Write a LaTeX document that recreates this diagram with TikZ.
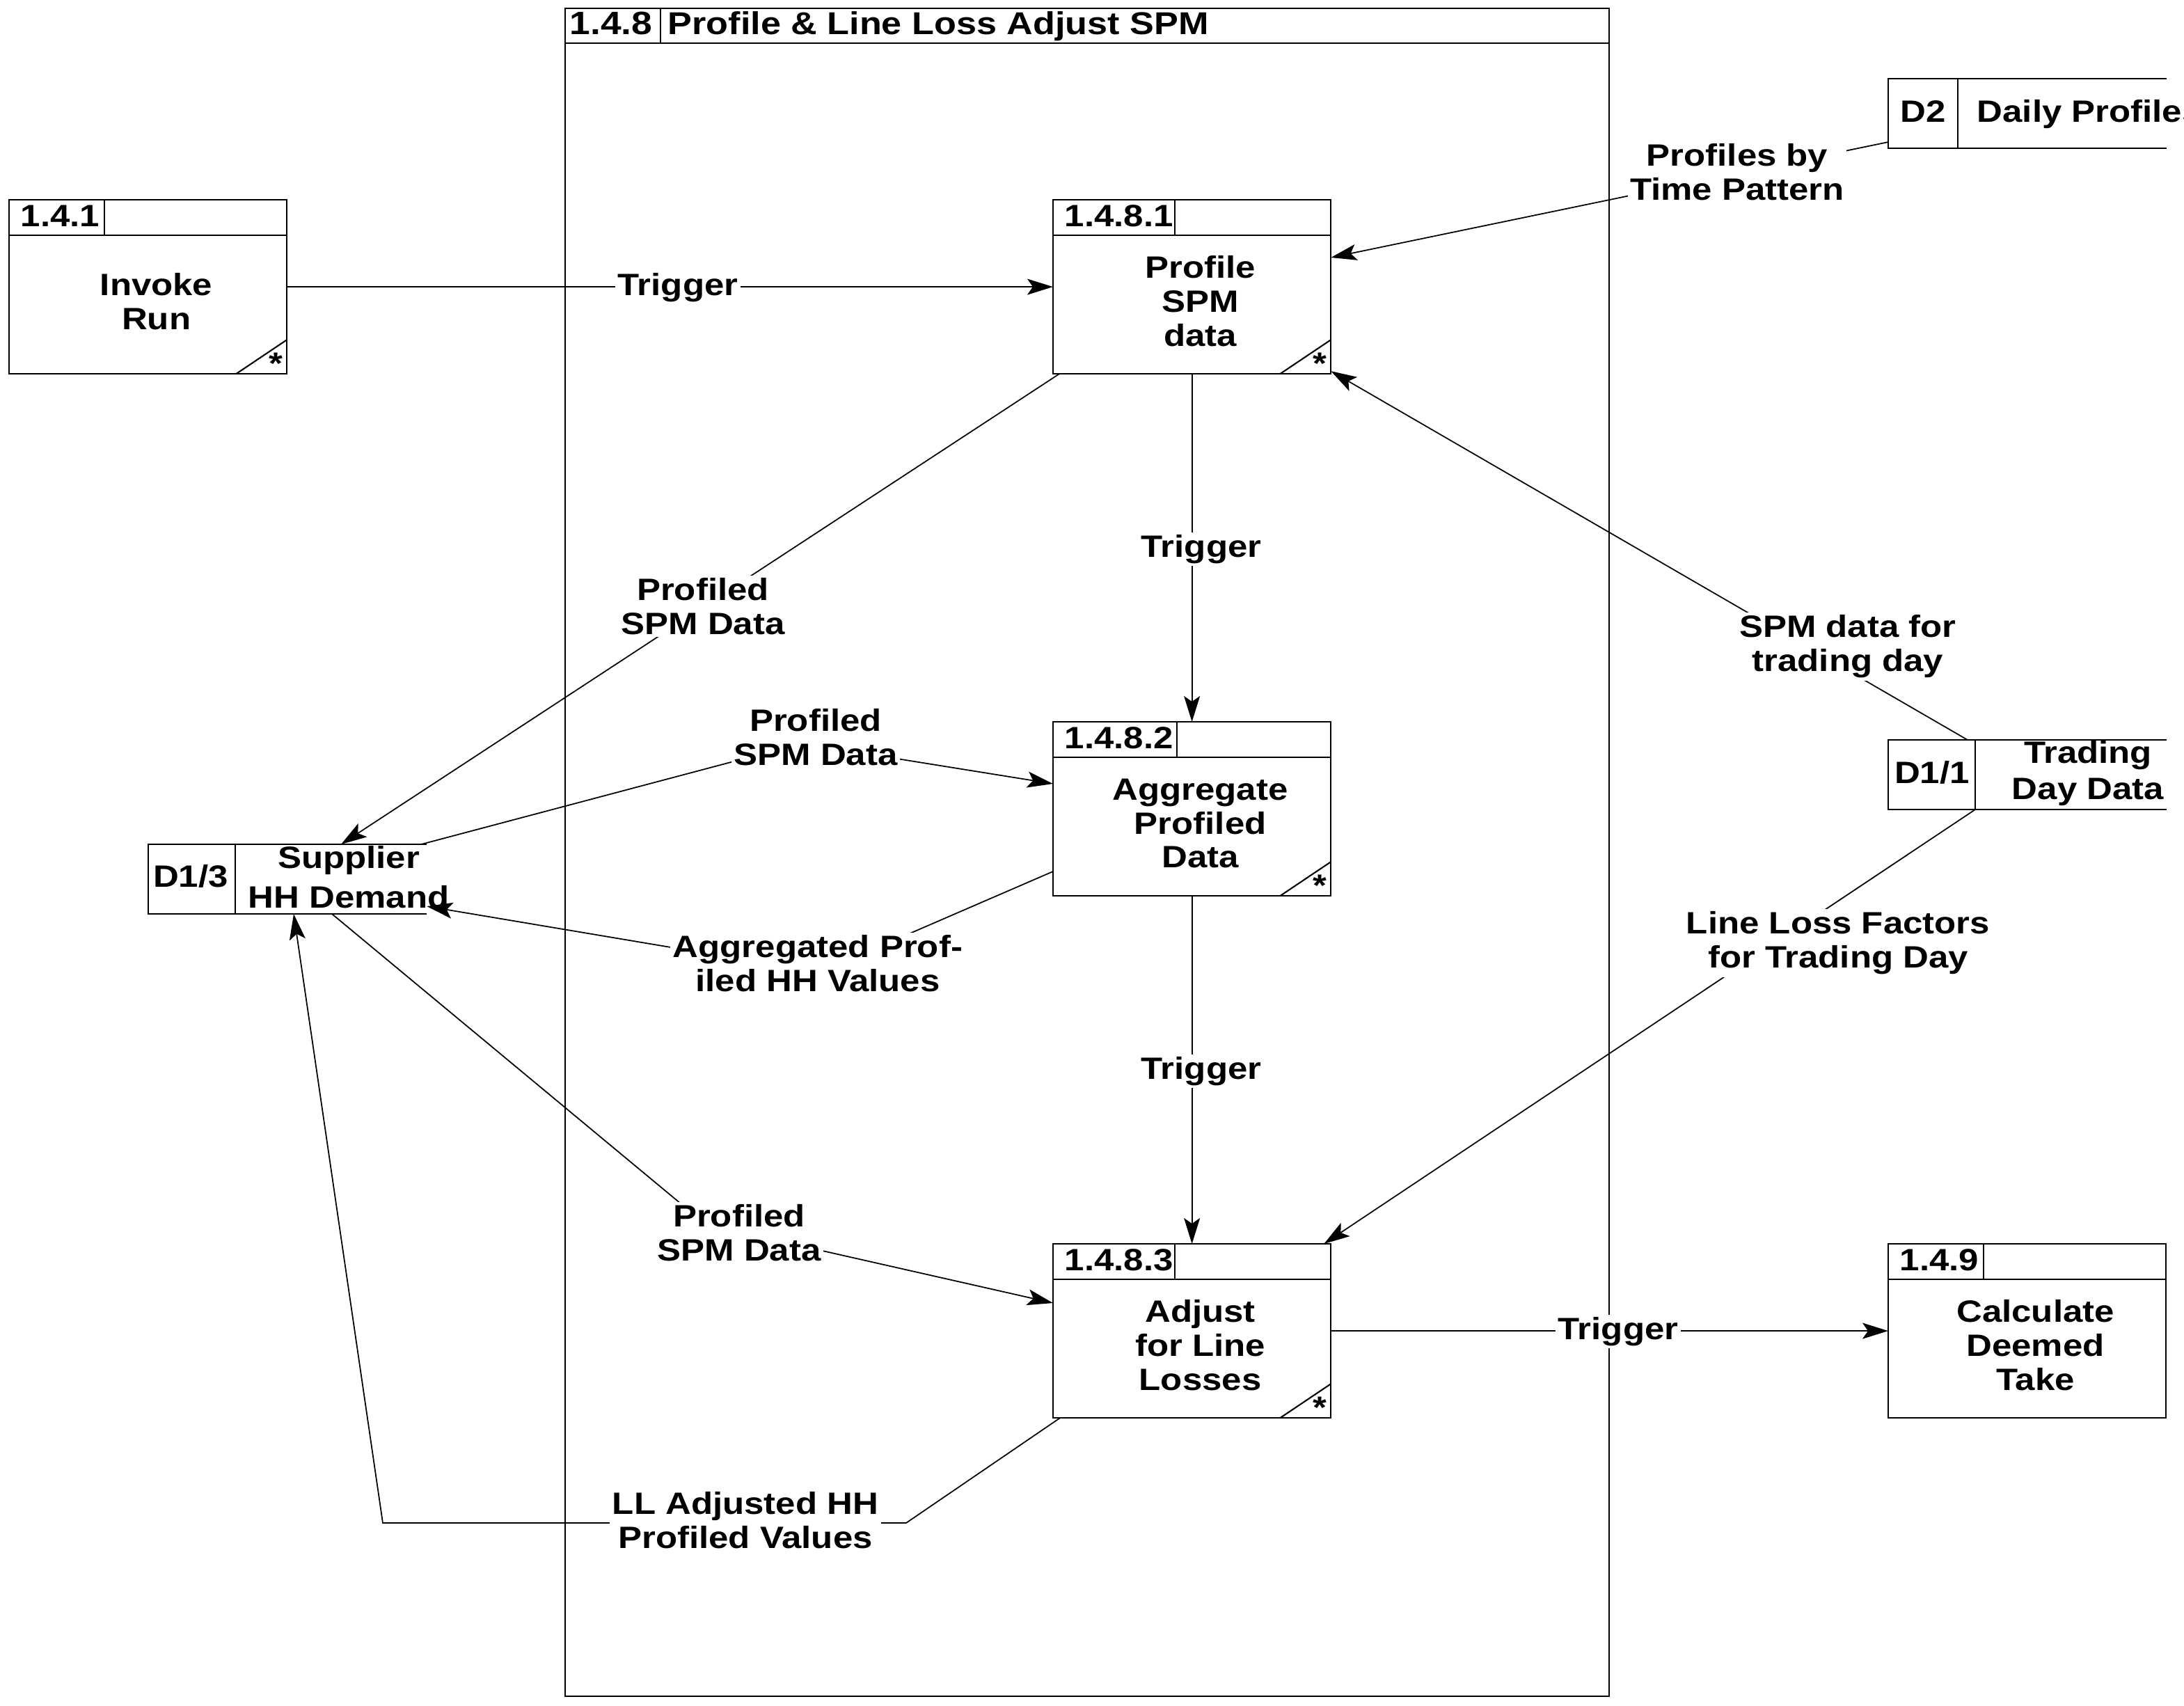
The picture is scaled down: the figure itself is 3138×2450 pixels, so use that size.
\documentclass[tikz,border=0pt]{standalone}
\usepackage{fontspec}
\setmainfont{Liberation Sans}[FakeStretch=1.15]
\usetikzlibrary{arrows.meta,calc}
\begin{document}
\begin{tikzpicture}[x=0.01cm,y=-0.01cm,
  every node/.style={font=\fontsize{12.6}{13.9}\selectfont\bfseries},
  boxline/.style={line width=0.6pt},
  flowline/.style={line width=0.5pt},
  flowarrow/.style={line width=0.5pt,-{Stealth[length=0.37cm,width=0.23cm,inset=0.08cm]}},
  procbody/.style={draw,line width=0.6pt,minimum width=3.99cm,minimum height=2.5cm,inner sep=0pt,outer sep=0pt},
  storebody/.style={inner sep=0pt,outer sep=0pt},
  idtext/.style={anchor=base west,inner sep=0pt},
  bodytext/.style={align=center,inner sep=0pt},
  lbl/.style={fill=white,inner sep=1pt,align=center}]
\useasboundingbox (0,0) rectangle (3138,2450);

\newcommand\procbox[5]{%
  \node[procbody,anchor=north west] (#1) at (#2) {};
  \draw[boxline] ($(#1.north west)+(0,51)$) -- ($(#1.north east)+(0,51)$);
  \draw[boxline] ($(#1.north west)+(#3,0)$) -- ($(#1.north west)+(#3,51)$);
  \node[idtext] (#1-id) at ($(#1.north west)+(16,38)$) {#4};
  \node[bodytext] (#1-txt) at ($(#1.north)+(12,146)$) {#5};
}
\newcommand\starcorner[1]{%
  \draw[boxline] ($(#1.south east)+(-73,0)$) -- ($(#1.south east)+(0,-49)$);
  \node[anchor=base east,inner sep=0pt] (#1-star) at ($(#1.south east)+(-5,0)$) {*};
}

% main frame
\node[draw,boxline,minimum width=14.99cm,minimum height=24.24cm,inner sep=0pt,outer sep=0pt,anchor=north west] (frame) at (812,12) {};
\draw[boxline] ($(frame.north west)+(0,50)$) -- ($(frame.north east)+(0,50)$);
\draw[boxline] ($(frame.north west)+(137,0)$) -- ($(frame.north west)+(137,50)$);
\node[idtext,font=\fontsize{13.2}{14.5}\selectfont\bfseries] (frame-id) at ($(frame.north west)+(6,37)$) {1.4.8};
\node[idtext,font=\fontsize{12.9}{14.2}\selectfont\bfseries] (frame-title) at ($(frame.north west)+(147,37)$) {Profile \& Line Loss Adjust SPM};

% processes
\procbox{p141}{13,287}{137}{1.4.1}{Invoke\\Run}
\starcorner{p141}
\procbox{p1481}{1513,287}{175}{1.4.8.1}{Profile\\SPM\\data}
\starcorner{p1481}
\procbox{p1482}{1513,1037}{178}{1.4.8.2}{Aggregate\\Profiled\\Data}
\starcorner{p1482}
\procbox{p1483}{1513,1787}{175}{1.4.8.3}{Adjust\\for Line\\Losses}
\starcorner{p1483}
\procbox{p149}{2713,1787}{137}{1.4.9}{Calculate\\Deemed\\Take}

% data stores
\node[storebody,minimum width=4cm,minimum height=1cm,anchor=north west] (d2) at (2713,113) {};
\draw[boxline] (d2.north east) -- (d2.north west) -- (d2.south west) -- (d2.south east);
\draw[boxline] ($(d2.north west)+(100,0)$) -- ($(d2.south west)+(100,0)$);
\node[anchor=base,inner sep=0pt] (d2-id) at ($(d2.north west)+(50,62)$) {D2};
\node[anchor=base west,inner sep=0pt] (d2-txt) at ($(d2.north west)+(127,62)$) {Daily Profiles};

\node[storebody,minimum width=4cm,minimum height=1cm,anchor=north west] (d13) at (213,1213) {};
\draw[boxline] (d13.north east) -- (d13.north west) -- (d13.south west) -- (d13.south east);
\draw[boxline] ($(d13.north west)+(125,0)$) -- ($(d13.south west)+(125,0)$);
\node[anchor=base,inner sep=0pt] (d13-id) at ($(d13.north west)+(61,61)$) {D1/3};
\node[bodytext] (d13-txt) at (501,1260) {Supplier\\[0.08cm]HH Demand};

\node[storebody,minimum width=4cm,minimum height=1cm,anchor=north west] (d11) at (2713,1063) {};
\draw[boxline] (d11.north east) -- (d11.north west) -- (d11.south west) -- (d11.south east);
\draw[boxline] ($(d11.north west)+(125,0)$) -- ($(d11.south west)+(125,0)$);
\node[anchor=base,inner sep=0pt] (d11-id) at ($(d11.north west)+(63,62)$) {D1/1};
\node[bodytext] (d11-txt) at (3000,1111) {Trading\\[0.03cm]Day Data};

% bend points
\coordinate (b-psd2) at (1152,1068);
\coordinate (b-agg) at (1178,1397);
\coordinate (b-psd3) at (1014,1759);
\coordinate (b-ll1) at (1302,2188);
\coordinate (b-ll2) at (550,2188);

% flows
\draw[flowarrow] (p141.east) -- (p1481.west);
\draw[flowarrow] (p1481.south) -- (p1482.north);
\draw[flowarrow] (p1482.south) -- (p1483.north);
\draw[flowarrow] (p1483.east) -- (p149.west);
\draw[flowarrow] ($(d2.south west)+(0,-9)$) -- ($(p1481.north east)+(0,83)$);
\draw[flowarrow] ($(d11.north west)+(114,0)$) -- ($(p1481.south east)+(0,-4)$);
\draw[flowarrow] ($(d11.south west)+(125,0)$) -- ($(p1483.north east)+(-10,0)$);
\draw[flowarrow] ($(p1481.south west)+(9,0)$) -- ($(d13.north west)+(277,0)$);
\draw[flowarrow] ($(d13.north east)+(-8,0)$) -- (b-psd2) -- ($(p1482.north west)+(0,89)$);
\draw[flowarrow] ($(p1482.north west)+(0,215)$) -- (b-agg) -- ($(d13.south east)+(0,-11)$);
\draw[flowarrow] ($(d13.south west)+(264,0)$) -- (b-psd3) -- ($(p1483.north west)+(0,85)$);
\draw[flowarrow] ($(p1483.south west)+(10,0)$) -- (b-ll1) -- (b-ll2) -- ($(d13.south west)+(209,0)$);

% labels
\node[lbl] (l-trig1) at (974,413) {Trigger};
\node[lbl] (l-trig2) at (1726,789) {Trigger};
\node[lbl] (l-trig3) at (1726,1539) {Trigger};
\node[lbl] (l-trig4) at (2325,1913) {Trigger};
\node[lbl] (l-prof) at (2496,247) {Profiles by\\Time Pattern};
\node[lbl] (l-spmday) at (2655,929) {SPM data for\\trading day};
\node[lbl] (l-llf) at (2641,1355) {Line Loss Factors\\for Trading Day};
\node[lbl] (l-psd1) at (1010,871) {Profiled\\SPM Data};
\node[lbl] (l-psd2) at (1172,1059) {Profiled\\SPM Data};
\node[lbl] (l-agg) at (1175,1384) {Aggregated Prof-\\iled HH Values};
\node[lbl] (l-psd3) at (1062,1771) {Profiled\\SPM Data};
\node[lbl] (l-ll) at (1071,2184) {LL Adjusted HH\\Profiled Values};
\end{tikzpicture}
\end{document}
